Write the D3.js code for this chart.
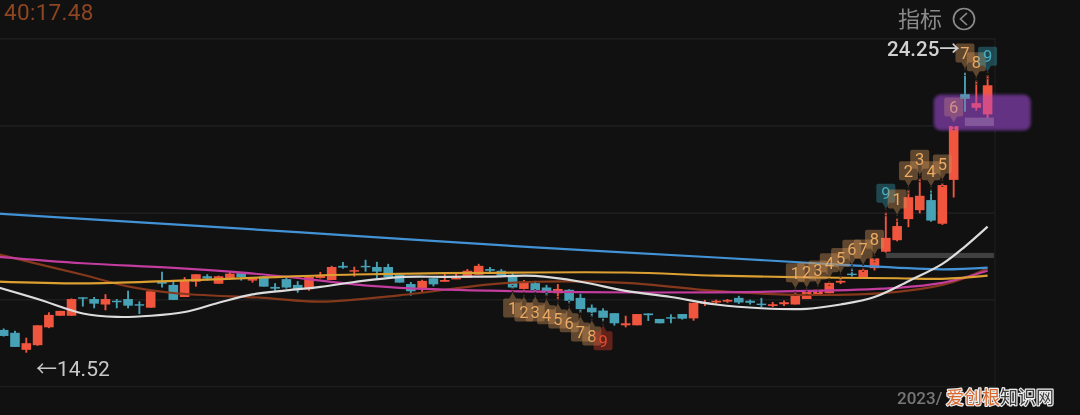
<!DOCTYPE html>
<html><head><meta charset="utf-8">
<script src="https://cdnjs.cloudflare.com/ajax/libs/d3/7.8.5/d3.min.js"></script>
<style>html,body{margin:0;padding:0;background:#111112;overflow:hidden}svg{display:block}text{font-family:Roboto,"Noto Sans CJK SC",sans-serif}</style>
</head><body><svg id="c" width="1080" height="415"></svg>
<script>
const opens =[15.31,15.21,14.62,14.78,15.40,15.80,15.80,16.44,16.38,16.19,16.32,16.38,16.20,16.08,16.98,16.87,16.45,16.98,17.17,16.91,17.10,17.28,17.02,17.16,16.80,17.07,16.87,16.72,17.11,17.04,17.53,17.33,17.53,17.49,17.49,17.22,16.90,16.73,17.10,16.98,17.07,17.12,17.22,17.42,17.36,17.22,16.73,16.93,16.78,16.58,16.70,16.42,16.08,15.98,15.89,15.47,15.47,15.88,15.69,15.75,15.86,15.71,16.24,16.26,16.29,16.42,16.32,16.22,16.14,16.20,16.19,16.38,16.55,16.58,16.95,17.26,17.14,17.45,18.02,18.42,19.15,19.46,19.81,18.99,20.51,23.48,23.01,22.78];
const highs =[15.36,15.28,15.04,15.47,15.92,15.97,16.40,16.44,16.45,16.55,16.38,16.67,16.30,16.67,17.33,16.98,17.14,17.24,17.24,17.19,17.32,17.28,17.14,17.16,16.93,17.14,17.00,17.16,17.32,17.53,17.66,17.50,17.74,17.67,17.60,17.28,16.97,17.05,17.10,17.31,17.31,17.42,17.60,17.49,17.42,17.29,17.04,17.01,16.87,16.90,16.72,16.56,16.19,16.06,15.89,15.80,15.86,15.88,15.69,15.85,15.86,16.25,16.35,16.36,16.38,16.49,16.36,16.42,16.28,16.33,16.63,16.66,16.73,16.98,17.16,17.45,17.46,17.79,19.39,19.19,20.17,20.57,20.17,20.40,22.38,24.25,23.95,24.14];
const lows  =[15.08,14.72,14.52,14.76,15.37,15.80,15.80,16.12,16.06,15.99,16.06,16.06,15.86,16.08,16.78,16.35,16.45,16.81,17.02,16.91,17.05,17.02,16.95,16.81,16.66,16.74,16.60,16.67,17.09,17.04,17.43,17.16,17.33,17.10,17.14,16.95,16.50,16.60,16.82,16.98,17.07,17.12,17.22,17.30,17.19,16.73,16.59,16.59,16.49,16.35,16.22,15.90,15.76,15.59,15.46,15.40,15.47,15.62,15.54,15.54,15.67,15.63,16.14,16.21,16.25,16.21,16.19,16.10,16.10,16.14,16.19,16.38,16.55,16.58,16.90,17.16,17.09,17.37,17.99,18.38,18.87,19.35,19.06,18.95,19.90,22.87,22.91,22.66];
const closes=[15.10,14.72,14.85,15.47,15.83,15.97,16.38,16.40,16.22,16.38,16.27,16.15,16.15,16.65,16.91,16.35,17.01,17.24,17.09,17.17,17.26,17.14,17.09,16.81,16.74,16.78,16.70,17.16,17.19,17.49,17.47,17.38,17.48,17.33,17.14,16.95,16.65,17.01,16.89,17.04,17.11,17.36,17.53,17.36,17.19,16.78,16.98,16.69,16.60,16.73,16.32,16.03,15.92,15.73,15.54,15.54,15.86,15.82,15.54,15.70,15.70,16.25,16.27,16.32,16.35,16.26,16.25,16.19,16.20,16.27,16.50,16.65,16.70,16.94,17.01,17.21,17.39,17.79,18.50,18.91,19.91,19.96,19.10,20.33,22.38,23.32,23.17,23.79];

const whiteIdx=[-1,3,7,10,13,16,19,22,25,28,31,35,39,43,47,51,55,59,63,67,71,74,77,80,83,85,87];
const whiteVal=[16.84,16.38,15.88,15.76,15.80,15.93,16.25,16.54,16.68,16.80,16.97,17.14,17.15,17.16,17.18,16.98,16.66,16.45,16.19,16.06,16.04,16.19,16.45,17.00,17.60,18.20,18.89];
const blueIdx=[-1,15,31,47,63,75,83,87];
const blueVal=[19.35,18.97,18.57,18.17,17.82,17.55,17.41,17.47];
const yellowIdx=[-1,7,15,23,31,43,55,63,71,79,83,87];
const yellowVal=[16.99,16.92,17.01,17.13,17.23,17.29,17.30,17.19,17.13,17.10,17.08,17.19];
const magentaIdx=[-1,7,15,23,31,35,43,51,63,71,79,83,85,87];
const magentaVal=[17.86,17.62,17.46,17.23,16.89,16.77,16.67,16.62,16.61,16.66,16.77,16.94,17.13,17.36];
const brownIdx=[-1,3,7,11,15,23,28,35,43,47,55,63,71,79,83,85,87];
const brownVal=[17.98,17.60,17.22,16.82,16.59,16.42,16.29,16.51,16.89,16.98,16.94,16.66,16.52,16.63,16.87,17.11,17.45];

const downFlagIdx=[45,46,47,48,49,50,51,52,53];
const downFlagNum=[1,2,3,4,5,6,7,8,9];
const upFlagIdx=[70,71,72,73,74,75,76,77,78,79,80,81,82,83,84,85,86,87];
const upFlagNum=[1,2,3,4,5,6,7,8,9,1,2,3,4,5,6,7,8,9];
const gridPrices=[13.34,16.35,19.36,22.38,25.4];

const svg=d3.select("#c");
const x=d3.scaleLinear().domain([0,87]).range([3.67,987.6]);
const y=d3.scaleLinear().domain([14,25]).range([367.7,50.35]);
const RED="#f0543e",CYAN="#46a2b6";
const defs=svg.append("defs");
defs.append("filter").attr("id","soft").attr("x","-10%").attr("y","-20%").attr("width","120%").attr("height","140%")
 .append("feGaussianBlur").attr("stdDeviation",1.6);
defs.append("filter").attr("id","photo").attr("filterUnits","userSpaceOnUse").attr("x",0).attr("y",0).attr("width",1080).attr("height",415)
 .append("feGaussianBlur").attr("stdDeviation",0.4);
const root=svg.append("g").attr("filter","url(#photo)");

root.append("g").selectAll("line").data(gridPrices).join("line")
 .attr("x1",0).attr("x2",995).attr("y1",d=>y(d)).attr("y2",d=>y(d)).attr("stroke","#212122").attr("stroke-width",1.2);
root.append("line").attr("x1",995).attr("x2",995).attr("y1",y(25.4)).attr("y2",y(13.34)).attr("stroke","#212122").attr("stroke-width",1.2);

const candles=closes.map((c,i)=>({i,o:opens[i],h:highs[i],l:lows[i],c}));
const gc=root.append("g");
gc.selectAll("line").data(candles).join("line")
 .attr("x1",d=>x(d.i)).attr("x2",d=>x(d.i)).attr("y1",d=>y(d.h)).attr("y2",d=>y(d.l))
 .attr("stroke",d=>d.c>=d.o?RED:CYAN).attr("stroke-width",1.9);
const bw=9.6;
gc.selectAll("rect").data(candles).join("rect")
 .attr("x",d=>x(d.i)-bw/2).attr("width",bw)
 .attr("y",d=>y(Math.max(d.o,d.c))).attr("height",d=>Math.max(1.4,Math.abs(y(d.o)-y(d.c))))
 .attr("fill",d=>d.c>=d.o?RED:CYAN);

const line=d3.line().x(d=>x(d[0])).y(d=>y(d[1])).curve(d3.curveCatmullRom.alpha(0.5));
[[brownIdx,brownVal,"#85391a"],[magentaIdx,magentaVal,"#c23c9e"],[yellowIdx,yellowVal,"#dca030"],[blueIdx,blueVal,"#4393d6"],[whiteIdx,whiteVal,"#dcdcdc"]]
 .forEach(([a,b,col])=>root.append("path").attr("d",line(a.map((v,k)=>[v,b[k]]))).attr("fill","none").attr("stroke",col).attr("stroke-width",2.2));

const flagPath=(dir)=>{
 const s=9.5,t=15.5*dir,e=s*dir;
 return `M${-s+2},${-e}L${s-2},${-e}Q${s},${-e} ${s},${-e+2*dir}L${s},${e-2*dir}Q${s},${e} ${s-2},${e}L3.5,${e}L0,${t}L-3.5,${e}L${-s+2},${e}Q${-s},${e} ${-s},${e-2*dir}L${-s},${-e+2*dir}Q${-s},${-e} ${-s+2},${-e}Z`;
};
function flags(idx,nums,dir){
 const g=root.append("g");
 idx.forEach((ci,k)=>{
  const n=nums[k];
  const nine=n===9;
  const fill=nine?(dir>0?"rgba(62,170,190,0.36)":"rgba(215,60,40,0.40)"):"rgba(205,145,85,0.42)";
  const col=nine?(dir>0?"#45aebf":"#e5492f"):"#edab63";
  const cy=dir>0?y(highs[ci])-19:y(lows[ci])+19;
  const cx=x(ci);
  g.append("line").attr("x1",cx).attr("x2",cx)
   .attr("y1",cy+15.5*dir).attr("y2",cy+23*dir)
   .attr("stroke","#3a2a1e").attr("stroke-width",1.8).attr("stroke-dasharray","1.6 1.6");
  g.append("path").attr("transform",`translate(${cx},${cy})`).attr("d",flagPath(dir)).attr("fill",fill);
  g.append("text").attr("x",cx).attr("y",cy+6).attr("text-anchor","middle").attr("font-size",16.5).attr("fill",col).text(n);
 });
}
flags(downFlagIdx,downFlagNum,-1);
flags(upFlagIdx,upFlagNum,1);

const band=g=>g.attr("x",x(82.25)).attr("width",x(90.8)-x(82.25)).attr("y",y(23.46)).attr("height",y(22.23)-y(23.46)).attr("rx",7).attr("filter","url(#soft)");
root.append("rect").call(band).attr("fill","#5d2f7c").style("mix-blend-mode","lighten");
root.append("rect").call(band).attr("fill","#7a3a9a").attr("opacity",0.22);
root.append("rect").attr("x",x(84.98)).attr("width",x(87.56)-x(84.98)).attr("y",y(22.67)).attr("height",y(22.38)-y(22.67)).attr("fill","rgba(255,255,255,0.2)");
root.append("rect").attr("x",x(78)).attr("width",x(87.56)-x(78)).attr("y",y(17.98)).attr("height",y(17.80)-y(17.98)).attr("fill","rgba(255,255,255,0.2)");

root.append("text").attr("x",4).attr("y",20).attr("font-size",22.5).attr("fill","#8d4420").attr("letter-spacing",0.3).text("40:17.48");
root.append("text").attr("x",898).attr("y",27).attr("font-size",22).attr("fill","#8a8a8a").text("指标");
root.append("circle").attr("cx",964).attr("cy",19).attr("r",10.5).attr("fill","none").attr("stroke","#8a8a8a").attr("stroke-width",1.7);
root.append("path").attr("d","M967,13L960.5,19L967,25").attr("fill","none").attr("stroke","#8a8a8a").attr("stroke-width",1.7);
root.append("text").attr("x",887).attr("y",56).attr("font-size",20.5).attr("font-weight",500).attr("fill","#d0d0d0").text("24.25→");
root.append("text").attr("x",36).attr("y",376).attr("font-size",21).attr("fill","#c8c8c8").text("←14.52");
root.append("text").attr("x",897).attr("y",404).attr("font-size",17).attr("font-weight",500).attr("fill","#777").text("2023/");
const wm=root.append("text").attr("x",946).attr("y",404).attr("font-size",18).attr("stroke","#eeeeee").attr("stroke-width",2.4).attr("paint-order","stroke").attr("stroke-linejoin","round");
wm.append("tspan").attr("fill","#d9662a").text("爱创根");
wm.append("tspan").attr("fill","#3c3c3c").text("知识网");
</script></body></html>
